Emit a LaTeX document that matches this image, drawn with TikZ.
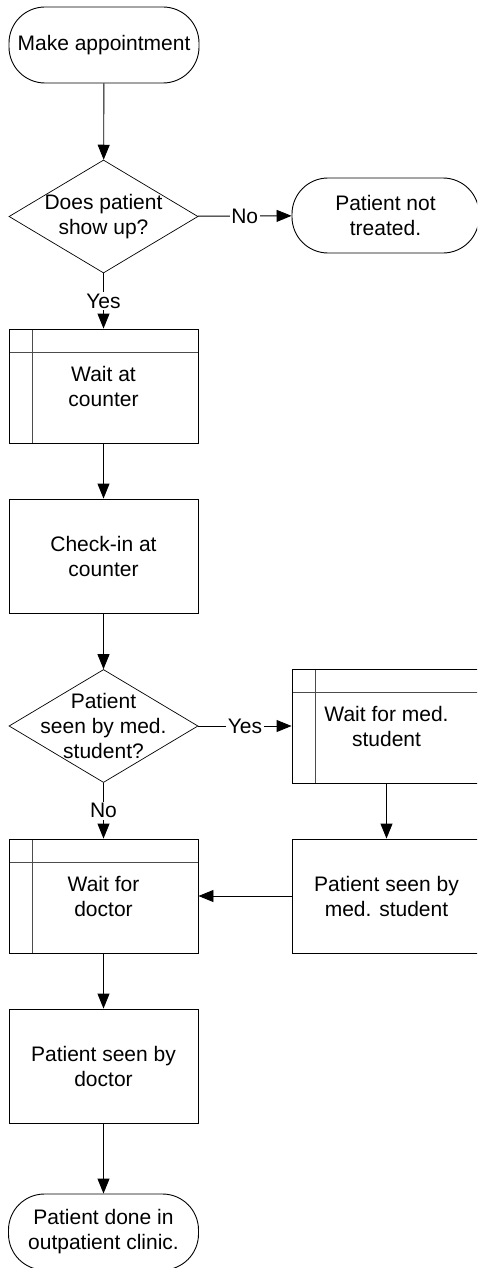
\documentclass[tikz,border=0pt]{standalone}
\usepackage{fontspec}
\setmainfont{Liberation Sans}
\usetikzlibrary{arrows.meta,shapes.geometric}
\begin{document}
\begin{tikzpicture}[x=1pt,y=-1pt,
  line width=0.9pt,
  every node/.style={font=\fontsize{21}{25}\selectfont, align=center},
  terminal/.style={draw, rectangle, rounded corners=36pt, minimum width=190pt, minimum height=76pt, inner sep=0pt},
  decision/.style={draw, diamond, minimum width=189pt, minimum height=113pt, inner sep=0pt, line width=0.7pt},
  process/.style={draw, rectangle, minimum width=189pt, minimum height=114pt, inner sep=0pt},
  subproc/.style={process, path picture={
      \draw[line width=1pt, gray!60!black]
        ([xshift=23pt]path picture bounding box.north west) -- ([xshift=23pt]path picture bounding box.south west)
        ([yshift=-23pt]path picture bounding box.north west) -- ([yshift=-23pt]path picture bounding box.north east);}},
  flow/.style={-{Triangle[length=15pt,width=12pt]}},
  answer/.style={fill=white, inner sep=1.5pt}
]
\useasboundingbox (0,0) rectangle (477,1268);
\clip (0,0) rectangle (477,1268);

% left column
\node[terminal] (start) at (104,45) {Make appointment};
\node[decision] (d1) at (103.5,216.5) {};
\node (d1t) at (d1.center) {Does patient\\show up?};
\node[subproc] (w1) at (103.5,386) {Wait at\\counter};
\node[process] (c1) at (103.5,556) {Check-in at\\counter};
\node[decision] (d2) at (103.5,726) {};
\node (d2t) at (d2.center) {Patient\\seen by med.\\student?};
\node[subproc] (wd) at (103.5,896) {Wait for\\doctor};
\node[process] (pd) at (103.5,1066) {Patient seen by\\doctor};
\node[terminal] (done) at (103.5,1232) {Patient done in\\outpatient clinic.};

% right column
\node[terminal, minimum width=187pt, minimum height=75pt] (nt) at (385.5,215.5) {Patient not\\treated.};
\node[subproc] (wm) at (386.5,726) {Wait for med.\\student};
\node[process] (ps) at (386.5,896) {Patient seen by\\med. student};

% connectors
\draw[flow] (start) -- (d1);
\draw[flow] (d1) -- node[answer] {Yes} (w1);
\draw[flow] (d1) -- node[answer] {No} (nt);
\draw[flow] (w1) -- (c1);
\draw[flow] (c1) -- (d2);
\draw[flow] (d2) -- node[answer] {Yes} (wm);
\draw[flow] (d2) -- node[answer] {No} (wd);
\draw[flow] (wm) -- (ps);
\draw[flow] (ps) -- (wd);
\draw[flow] (wd) -- (pd);
\draw[flow] (pd) -- (done);
\end{tikzpicture}
\end{document}
